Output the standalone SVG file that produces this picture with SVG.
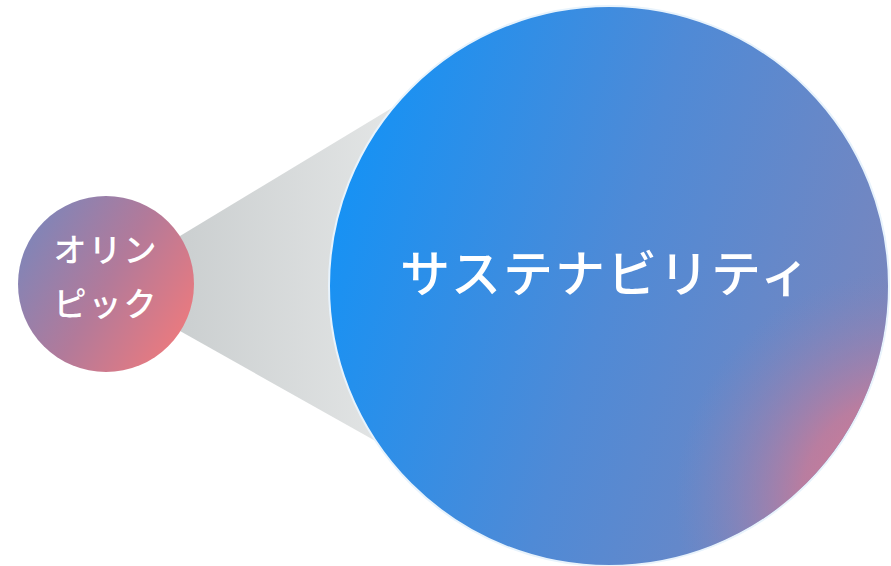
<svg xmlns="http://www.w3.org/2000/svg" width="891" height="566" viewBox="0 0 891 566">
  <defs>
    <linearGradient id="coneGrad" x1="0" y1="0" x2="1" y2="0">
      <stop offset="0" stop-color="#cbcfd0"/>
      <stop offset="1" stop-color="#e6e8e8"/>
    </linearGradient>
    <linearGradient id="smallGrad" x1="0" y1="0.2" x2="1" y2="0.8">
      <stop offset="0" stop-color="#7b86bb"/>
      <stop offset="0.5" stop-color="#b27a9a"/>
      <stop offset="1" stop-color="#f07a7c"/>
    </linearGradient>
    <linearGradient id="bigGrad" x1="0" y1="0.35" x2="1" y2="0.65">
      <stop offset="0" stop-color="#1592f5"/>
      <stop offset="0.5" stop-color="#4f8ad6"/>
      <stop offset="1" stop-color="#7a86bd"/>
    </linearGradient>
    <radialGradient id="pinkGlow" cx="905" cy="500" r="230" gradientUnits="userSpaceOnUse">
      <stop offset="0" stop-color="#e87a8a" stop-opacity="1"/>
      <stop offset="0.45" stop-color="#d07a95" stop-opacity="0.75"/>
      <stop offset="1" stop-color="#8a84b8" stop-opacity="0"/>
    </radialGradient>
    <style>
      .label { font-family: "Noto Sans CJK JP", "Noto Sans", sans-serif; fill: #ffffff; text-anchor: middle; font-weight: 500; }
      .big { font-size: 50px; letter-spacing: 2px; }
      .small { font-size: 33px; letter-spacing: 2px; }
    </style>
  </defs>
  <rect width="891" height="566" fill="#ffffff"/>
  <g id="connectors">
    <polygon points="180,236 420,91 420,466 180,331" fill="url(#coneGrad)"/>
  </g>
  <g id="node-olympic">
    <circle cx="106" cy="284" r="88" fill="url(#smallGrad)"/>
    <text class="label small" x="106" y="262">オリン</text>
    <text class="label small" x="106" y="316">ピック</text>
  </g>
  <g id="node-sustainability">
    <circle cx="609" cy="286" r="280" fill="url(#bigGrad)" stroke="#e8f3fc" stroke-width="2"/>
    <circle cx="609" cy="286" r="279" fill="url(#pinkGlow)"/>
    <text class="label big" x="606" y="292">サステナビリティ</text>
  </g>
</svg>
